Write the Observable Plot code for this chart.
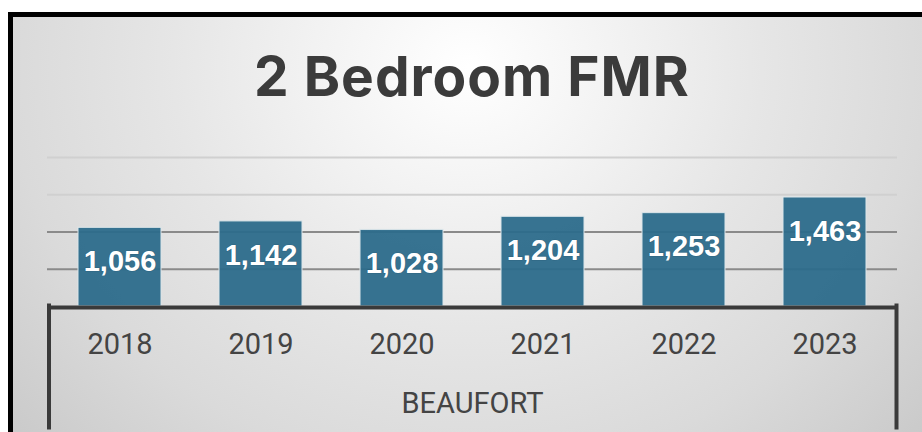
<!DOCTYPE html>
<html><head><meta charset="utf-8">
<script src="https://cdn.jsdelivr.net/npm/d3@7"></script>
<script src="https://cdn.jsdelivr.net/npm/@observablehq/plot@0.6"></script>
<style>
body{margin:0;background:#fff;}
#wrap{position:relative;width:922px;height:432px;overflow:hidden;background:#fff;}
#panel{position:absolute;left:8px;top:12px;right:0;bottom:0;border-top:5px solid #000;border-left:5px solid #000;
  background:radial-gradient(ellipse 72% 140% at 50% 12%, #ffffff 0%, #f3f3f3 22%, #e6e6e6 45%, #dadada 70%, #c6c6c6 100%);}
#title{position:absolute;left:0;top:49px;width:944px;text-align:center;font-family:Inter,sans-serif;font-weight:700;font-size:55px;line-height:54px;color:#3b3b3b;letter-spacing:1px;}
#chart{position:absolute;left:0;top:0;}
</style></head>
<body>
<div id="wrap"><div id="panel"></div><div id="title">2 Bedroom FMR</div><div id="chart"></div></div>
<script>
const years = ["2018","2019","2020","2021","2022","2023"];
const fmr = [1056, 1142, 1028, 1204, 1253, 1463];
const gridDark = [500, 1000];
const gridLight = [1500, 2000];
const groupLabel = ["BEAUFORT"];

const data = years.map((y, i) => ({year: y, value: fmr[i]}));
const fmt = d3.format(",");

const chart = Plot.plot({
  width: 922, height: 432,
  marginTop: 157, marginBottom: 126, marginLeft: 47, marginRight: 25,
  style: {background: "transparent", overflow: "visible"},
  x: {domain: years, paddingInner: 0.414, paddingOuter: 0.207, label: null},
  y: {domain: [0, 2000], axis: null, label: null},
  marks: [
    Plot.ruleY(gridLight, {stroke: "#d0d0d0", strokeWidth: 2}),
    Plot.ruleY(gridDark, {stroke: "#8a8a8a", strokeWidth: 2}),
    Plot.barY(data, {x: "year", y: "value", fill: "#2c6c8b", fillOpacity: 0.95, stroke: "#dce6ea", strokeWidth: 1}),
    Plot.text(data, {x: "year", y: "value", text: d => fmt(d.value), dy: 34, fill: "#ffffff",
      fontSize: 29, fontWeight: "bold", fontFamily: "Liberation Sans, Arial, sans-serif",
      stroke: "#1f5068", strokeWidth: 1.2, strokeOpacity: 0.35}),
    Plot.ruleY([0], {stroke: "#3a3a3a", strokeWidth: 4, dy: 1}),
    Plot.frame({anchor: "left", stroke: "#3a3a3a", strokeWidth: 4, insetLeft: 1.5, insetTop: 148, insetBottom: -121}),
    Plot.frame({anchor: "right", stroke: "#3a3a3a", strokeWidth: 4, insetRight: 1, insetTop: 148, insetBottom: -121}),
    Plot.axisX({tickSize: 0, tickPadding: 27, fontSize: 29, fill: "#444444", fontFamily: "Roboto, sans-serif", label: null}),
    Plot.text(groupLabel, {frameAnchor: "bottom", dy: 106, fontSize: 29, fill: "#444444", fontFamily: "Roboto, sans-serif"})
  ]
});
document.getElementById("chart").appendChild(chart);
</script>
</body></html>
